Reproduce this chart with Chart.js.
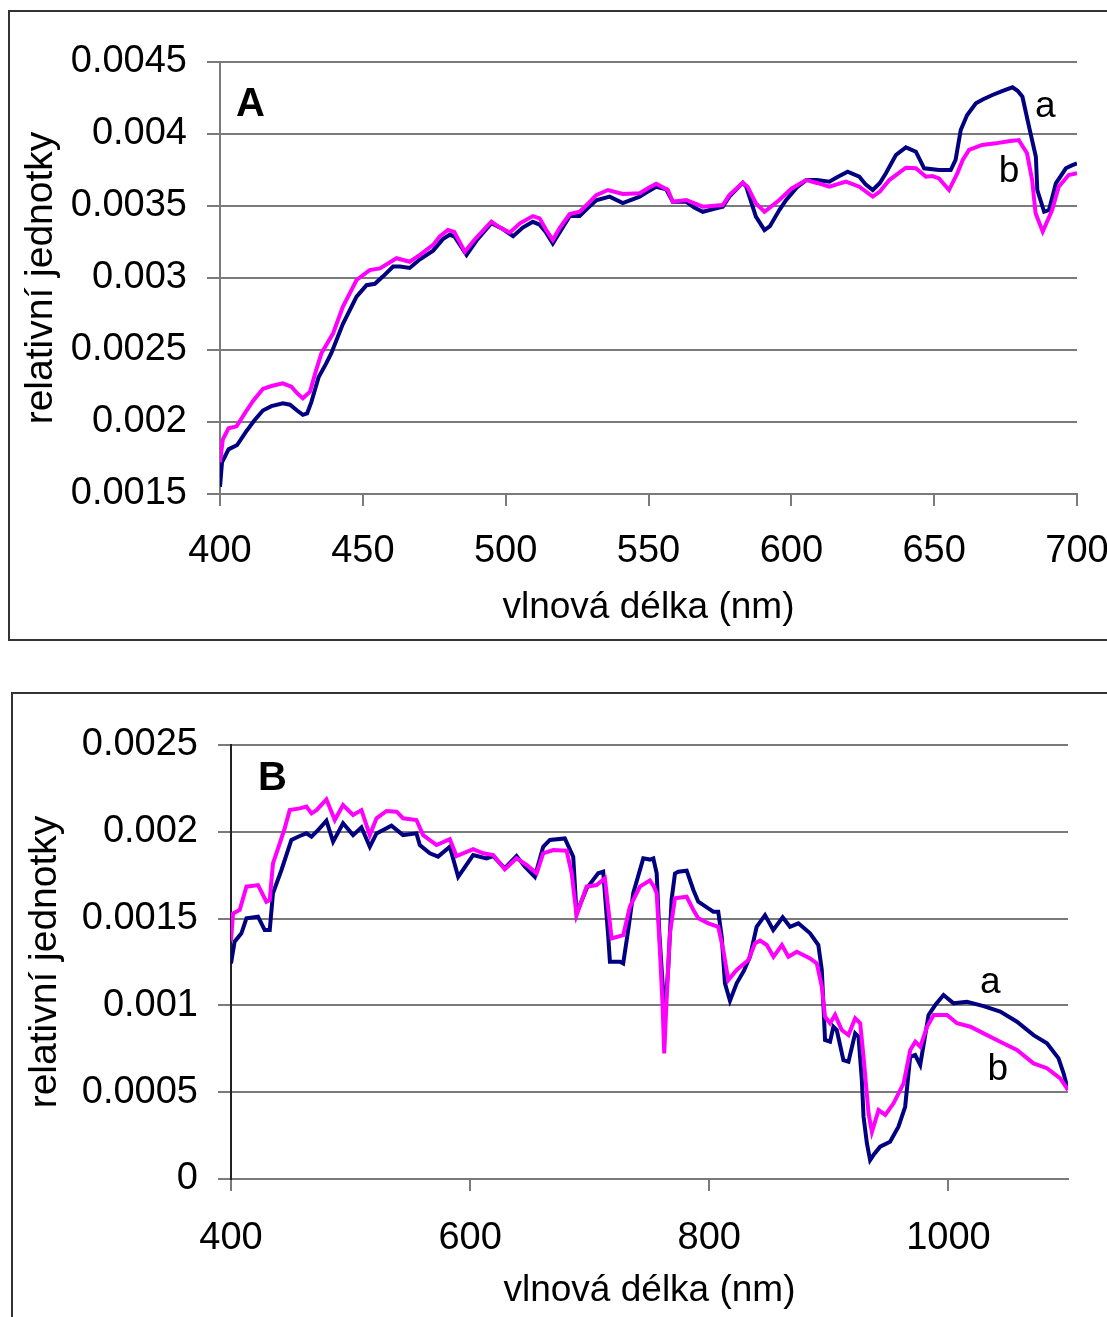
<!DOCTYPE html>
<html>
<head>
<meta charset="utf-8">
<script src="https://cdn.jsdelivr.net/npm/chart.js@4"></script>
<style>
  body { margin: 0; background: #fff; }
  canvas { position: absolute; left: 0; }
  #chartA { top: 0; }
  #chartB { top: 660px; }
</style>
</head>
<body>
<canvas id="chartA" width="1107" height="660"></canvas>
<canvas id="chartB" width="1107" height="657"></canvas>
<script>
// --- graf A: 400-700 nm ---
const xTicksA = [400, 450, 500, 550, 600, 650, 700];
const yTicksA = [0.0015, 0.002, 0.0025, 0.003, 0.0035, 0.004, 0.0045];

const nmA_a = [400, 400.7, 403, 406, 409, 412, 415, 418, 422, 424.5, 427, 429, 430.5, 432, 434.5, 437, 439, 443, 447.8, 451.3,
  454.2, 457, 460.6, 463, 466.4, 470, 474.6, 478, 480.4, 482, 486.3, 489.8, 495, 499, 502.6, 506, 509.5, 511.9, 514, 516.5,
  519, 522.4, 525.9, 529, 531.7, 536.4, 541, 546.9, 549.8, 552.7, 556.2, 558.5, 563.2, 566, 569, 573, 576, 578.3, 583, 584.2,
  587.6, 590.6, 592.5, 595.8, 598.2, 602, 605.2, 609, 613.3, 616, 619.7, 623.8, 626, 628.5, 631, 633.1, 636.6, 640.1, 643.6, 646.5,
  651.7, 655.8, 657.5, 659.3, 661.5, 664.6, 667, 670.4, 674, 677.4, 679.2, 680.9, 683.2, 685.6, 686.1, 688.5, 690.2, 692.6, 696.1, 698, 700];
const valA_a = [0.00155, 0.00172, 0.00181, 0.00184, 0.00193, 0.00201, 0.00208, 0.00211, 0.00213, 0.00212, 0.00208, 0.00205, 0.00206, 0.00214, 0.00231, 0.0024, 0.00248, 0.00268, 0.00287, 0.00295,
  0.00296, 0.00301, 0.00308, 0.00308, 0.00307, 0.00313, 0.00319, 0.00327, 0.0033, 0.00329, 0.00316, 0.00326, 0.00338, 0.00334, 0.00329, 0.00335, 0.00339, 0.00337, 0.00332, 0.00324,
  0.00332, 0.00343, 0.00343, 0.00349, 0.00354, 0.003565, 0.00352, 0.003565, 0.0036, 0.003634, 0.003616, 0.00353, 0.00353, 0.00349, 0.00346, 0.00348, 0.003495, 0.003565, 0.003662, 0.003634,
  0.003426, 0.003333, 0.00336, 0.003472, 0.003542, 0.00363, 0.00368, 0.00368, 0.003669, 0.0037, 0.003738, 0.003703, 0.00365, 0.003611, 0.00366, 0.003727, 0.003854, 0.003907, 0.003877, 0.003762,
  0.00375, 0.00375, 0.00382, 0.004028, 0.00413, 0.004213, 0.00424, 0.004271, 0.0043, 0.004324, 0.0043, 0.004259, 0.004051, 0.003842, 0.003611, 0.00346, 0.003472, 0.003657, 0.003762, 0.00378, 0.003796];

const nmA_b = [400, 401, 403, 405.8, 409, 411.7, 415, 418, 422, 425, 427, 429, 431.5, 433.5, 435.5, 439.6, 443, 447.8, 452.4, 456,
  461.8, 466.4, 470, 474.6, 477, 479.8, 482, 485.7, 489, 495, 498, 501.4, 505, 509.5, 511.9, 514, 516.5, 519, 522.4, 525.9,
  529, 531.7, 535.8, 541, 546.9, 549.8, 552.7, 556.8, 558.5, 563.2, 569, 576, 578.3, 583, 584.7, 587.6, 590.6, 595.8, 600, 605.2,
  609, 613.3, 619.1, 623.8, 628.5, 631, 634.3, 640.1, 643.6, 647.1, 649.4, 651.7, 655.2, 658.1, 660, 662.2, 666.8, 671.5, 676, 679.6,
  682.5, 684.3, 685.5, 688, 691.3, 693.6, 697.1, 700];
const valA_b = [0.00172, 0.00188, 0.001956, 0.00197, 0.00207, 0.00215, 0.00223, 0.00225, 0.002268, 0.002245, 0.0022, 0.002165, 0.00221, 0.00235, 0.002477, 0.002616, 0.0028, 0.002986, 0.003055, 0.003067,
  0.003137, 0.003113, 0.00316, 0.00323, 0.00329, 0.003333, 0.00332, 0.003183, 0.003264, 0.003391, 0.00335, 0.003315, 0.00338, 0.00343, 0.003414, 0.00334, 0.003264, 0.00335, 0.003444, 0.00346,
  0.00352, 0.003576, 0.003611, 0.003583, 0.003588, 0.003623, 0.003655, 0.003611, 0.00353, 0.003542, 0.003495, 0.003507, 0.003576, 0.003662, 0.003634, 0.003518, 0.00346, 0.003542, 0.00362, 0.00368,
  0.00366, 0.003634, 0.003669, 0.003634, 0.003565, 0.0036, 0.00368, 0.003766, 0.003762, 0.003703, 0.003708, 0.003692, 0.003611, 0.003727, 0.00382, 0.003889, 0.003924, 0.003935, 0.00395, 0.003958,
  0.003866, 0.00368, 0.003449, 0.003322, 0.003472, 0.003634, 0.003715, 0.003727];

// --- graf B: 400-1100 nm ---
const xTicksB = [400, 600, 800, 1000];
const yTicksB = [0, 0.0005, 0.001, 0.0015, 0.002, 0.0025];

const nmB_a = [400, 403, 408.7, 412.9, 422.6, 428.2, 432.4, 435.1, 442.2, 450.5, 457.5, 463.1, 467.3, 472.8, 479.8, 485.4, 493.7, 502.1, 509.1, 516.1,
  521.7, 534.2, 543.9, 555.1, 557.9, 566.3, 573.2, 583, 590, 602.5, 613.7, 619.3, 629, 638.8, 645.8, 654.1, 661.1, 666.7, 679.2, 686.2,
  689, 697.4, 707.1, 711.3, 715.5, 716.9, 725.3, 728, 732.2, 736.4, 744.8, 750.4, 753.2, 756, 758.2, 761, 762.9, 765.7, 768.5, 771.3,
  774.1, 781.1, 786.7, 790.8, 799.2, 803.4, 807.5, 810.4, 813.1, 817.3, 822.9, 829, 834, 839.6, 846.6, 853.5, 861.4, 867.5, 874.5, 884.3,
  891.2, 894.1, 895.4, 896.8, 901, 903.8, 906.6, 912.2, 916.4, 922, 924.8, 927.6, 929, 931.8, 934.5, 937.3, 942.9, 951.2, 958.2, 963.8,
  968, 972.2, 976.4, 983.4, 989, 995.9, 1004.3, 1015.5, 1029.4, 1043.3, 1057.3, 1071.2, 1082.4, 1092.1, 1096.3, 1100];
const valB_a = [0.001242, 0.001367, 0.001415, 0.001502, 0.001511, 0.001434, 0.001434, 0.001646, 0.00178, 0.001953, 0.001976, 0.001991, 0.001972, 0.00201, 0.002064, 0.001943, 0.002049, 0.001981, 0.002026, 0.001914,
  0.001991, 0.002035, 0.001981, 0.001991, 0.001924, 0.001876, 0.001857, 0.001914, 0.001741, 0.001866, 0.001847, 0.00186, 0.00179, 0.00186, 0.001799, 0.001741, 0.001914, 0.001953, 0.001962, 0.001857,
  0.00153, 0.001674, 0.001761, 0.00177, 0.001396, 0.001252, 0.001252, 0.001242, 0.001434, 0.001646, 0.001847, 0.00184, 0.001847, 0.001761, 0.00142, 0.00112, 0.00095, 0.00122, 0.00161, 0.00176,
  0.00177, 0.001776, 0.001665, 0.001597, 0.001559, 0.00154, 0.00154, 0.001396, 0.001127, 0.001027, 0.001127, 0.0012, 0.00128, 0.001453, 0.00152, 0.001434, 0.001507, 0.001453, 0.001473, 0.001415,
  0.001348, 0.001204, 0.001012, 0.000801, 0.000791, 0.000877, 0.000858, 0.000685, 0.000676, 0.000839, 0.00082, 0.00057, 0.000359, 0.000206, 0.000109, 0.000138, 0.000186, 0.000215, 0.000301, 0.000416,
  0.000704, 0.000714, 0.000657, 0.000945, 0.001002, 0.00106, 0.001012, 0.001021, 0.000996, 0.000964, 0.000906, 0.000829, 0.000782, 0.000695, 0.000609, 0.000513];

const nmB_b = [400, 401.7, 407.3, 412.9, 422.6, 429.6, 432.4, 435.1, 440.8, 444.9, 449.1, 457.5, 463.1, 467.3, 471.5, 479.8, 486.8, 493.7, 502.1, 509.1,
  516.1, 521.7, 530.1, 538.5, 543.9, 555.1, 560.7, 571.9, 583, 588.6, 602.5, 610.9, 619.3, 629, 638.8, 647.2, 655.6, 661.1, 669.5, 680.7,
  684.9, 689, 697.4, 705.7, 712.7, 718.3, 728, 733.6, 742, 750.3, 753.8, 756, 758.7, 761, 762.3, 764.3, 767.1, 771.3, 781.1, 786.7,
  790.8, 799.2, 807.5, 811.7, 815.9, 822.9, 832.7, 838.3, 842.5, 848.1, 853.7, 860.7, 866.2, 873.2, 884.3, 889.9, 894.1, 896.8, 901, 905.2,
  910.8, 916.4, 922, 926.2, 929, 933.2, 936, 941.6, 947.2, 954.1, 962.5, 968.1, 972.3, 976.5, 982.1, 987.7, 998.8, 1007.2, 1018.4, 1029.4,
  1043.3, 1057.3, 1071.2, 1082.4, 1093.5, 1100];
const valB_b = [0.00137, 0.00153, 0.00155, 0.001684, 0.001693, 0.001597, 0.001607, 0.001818, 0.001934, 0.00202, 0.002125, 0.002135, 0.002145, 0.002106, 0.002125, 0.002187, 0.002068, 0.002154, 0.002097, 0.002125,
  0.001981, 0.002078, 0.00212, 0.002116, 0.002078, 0.002068, 0.001981, 0.001924, 0.001957, 0.00186, 0.0019, 0.001876, 0.001866, 0.001784, 0.001847, 0.001809, 0.001761, 0.001876, 0.001895, 0.001891,
  0.001761, 0.00152, 0.001684, 0.001693, 0.001732, 0.001386, 0.001405, 0.001568, 0.001684, 0.00172, 0.001684, 0.001646, 0.00132, 0.00099, 0.000724, 0.00103, 0.001415, 0.001617, 0.001626, 0.00155,
  0.001502, 0.001473, 0.001453, 0.001319, 0.001146, 0.001204, 0.001261, 0.001358, 0.001373, 0.001348, 0.00128, 0.001348, 0.00128, 0.001309, 0.001271, 0.001242, 0.001108, 0.000935, 0.000897, 0.000945,
  0.000858, 0.000829, 0.000926, 0.000897, 0.000704, 0.000378, 0.000272, 0.000397, 0.000369, 0.000436, 0.000551, 0.000743, 0.000791, 0.000762, 0.000877, 0.000945, 0.000945, 0.000897, 0.000877, 0.000839,
  0.000791, 0.000743, 0.000666, 0.000638, 0.00058, 0.000513];

const FONT = 'Liberation Sans, Arial, sans-serif';
const GRID = '#7a7a7a';

function toPoints(xs, ys) {
  return xs.map((x, i) => ({ x: x, y: ys[i] }));
}

// ramecek kolem grafu
function framePlugin(rect) {
  return {
    id: 'frame',
    beforeDraw(chart) {
      const ctx = chart.ctx;
      ctx.save();
      ctx.strokeStyle = '#333';
      ctx.lineWidth = 2;
      ctx.strokeRect(rect[0], rect[1], rect[2], rect[3]);
      ctx.restore();
    }
  };
}

// popisky A/B, a, b
function lettersPlugin(items) {
  return {
    id: 'letters',
    afterDatasetsDraw(chart) {
      const { ctx, scales } = chart;
      ctx.save();
      ctx.fillStyle = '#000';
      ctx.textBaseline = 'alphabetic';
      ctx.textAlign = 'left';
      items.forEach((it) => {
        ctx.font = (it.bold ? 'bold 40px ' : '37px ') + FONT;
        ctx.fillText(it.text, scales.x.getPixelForValue(it.nm), scales.y.getPixelForValue(it.val));
      });
      ctx.restore();
    }
  };
}

function makeChart(id, cfg) {
  const tickFont = { family: FONT, size: 38 };
  const xTitleFont = { family: FONT, size: 37 };
  const yTitleFont = { family: FONT, size: 39 };
  return new Chart(document.getElementById(id), {
    type: 'line',
    data: {
      datasets: [
        { label: 'a', data: toPoints(cfg.nmA, cfg.valA), borderColor: '#000080', borderWidth: 4, pointRadius: 0, tension: 0, order: 2 },
        { label: 'b', data: toPoints(cfg.nmB, cfg.valB), borderColor: '#ff00ff', borderWidth: 4, pointRadius: 0, tension: 0, order: 1 },
      ],
    },
    options: {
      responsive: false,
      animation: false,
      devicePixelRatio: 1,
      layout: { padding: { left: 0, top: cfg.top, right: cfg.right, bottom: 0 } },
      plugins: { legend: { display: false }, tooltip: { enabled: false } },
      scales: {
        x: {
          type: 'linear',
          min: cfg.xTicks[0],
          max: cfg.xMax,
          afterBuildTicks: (s) => { s.ticks = cfg.xTicks.map((v) => ({ value: v })); },
          afterFit: (s) => { s.height = cfg.xHeight; s.paddingLeft = 0; s.paddingRight = 0; },
          grid: { drawOnChartArea: false, drawTicks: true, tickLength: 12, color: GRID, lineWidth: 2 },
          border: { display: true, color: GRID, width: 2 },
          ticks: { font: tickFont, color: '#000', padding: cfg.xTickPad, maxRotation: 0, autoSkip: false,
            callback: (v) => String(v) },
          title: { display: true, text: 'vlnová délka (nm)', font: xTitleFont, color: '#000', padding: { bottom: cfg.xTitlePad } },
        },
        y: {
          min: cfg.yTicks[0],
          max: cfg.yTicks[cfg.yTicks.length - 1],
          afterBuildTicks: (s) => { s.ticks = cfg.yTicks.map((v) => ({ value: v })); },
          afterFit: (s) => { s.width = cfg.yWidth; s.paddingTop = 0; s.paddingBottom = 0; },
          grid: { drawTicks: true, tickLength: 13, color: GRID, lineWidth: 2 },
          border: { display: true, color: cfg.yBorder, width: 2 },
          ticks: {
            font: tickFont, color: '#000', padding: 20,
            callback: (v) => String(parseFloat(v.toFixed(5))),
          },
          title: { display: true, text: 'relativní jednotky', font: yTitleFont, color: '#000', padding: { top: cfg.yTitlePad } },
        },
      },
    },
    plugins: [framePlugin(cfg.frame), lettersPlugin(cfg.letters)],
  });
}

makeChart('chartA', {
  nmA: nmA_a, valA: valA_a, nmB: nmA_b, valB: valA_b,
  xTicks: xTicksA, xMax: 700, yTicks: yTicksA,
  top: 62, right: 30, yWidth: 220, xHeight: 166, xTickPad: 23, xTitlePad: 30, yTitlePad: 18,
  yBorder: GRID,
  frame: [9, 11, 1200, 629],
  letters: [
    { text: 'A', nm: 405.6, val: 0.004125, bold: true },
    { text: 'a', nm: 685.3, val: 0.004118 },
    { text: 'b', nm: 672.6, val: 0.003667 },
  ],
});

makeChart('chartB', {
  nmA: nmB_a, valA: valB_a, nmB: nmB_b, valB: valB_b,
  xTicks: xTicksB, xMax: 1100, yTicks: yTicksB,
  top: 85, right: 39, yWidth: 231, xHeight: 138, xTickPad: 25, xTitlePad: 4, yTitlePad: 22,
  yBorder: '#222',
  frame: [12, 33, 1200, 700],
  letters: [
    { text: 'B', nm: 422.6, val: 0.002241, bold: true },
    { text: 'a', nm: 1026.5, val: 0.001073 },
    { text: 'b', nm: 1032.6, val: 0.00057 },
  ],
});
</script>
</body>
</html>
